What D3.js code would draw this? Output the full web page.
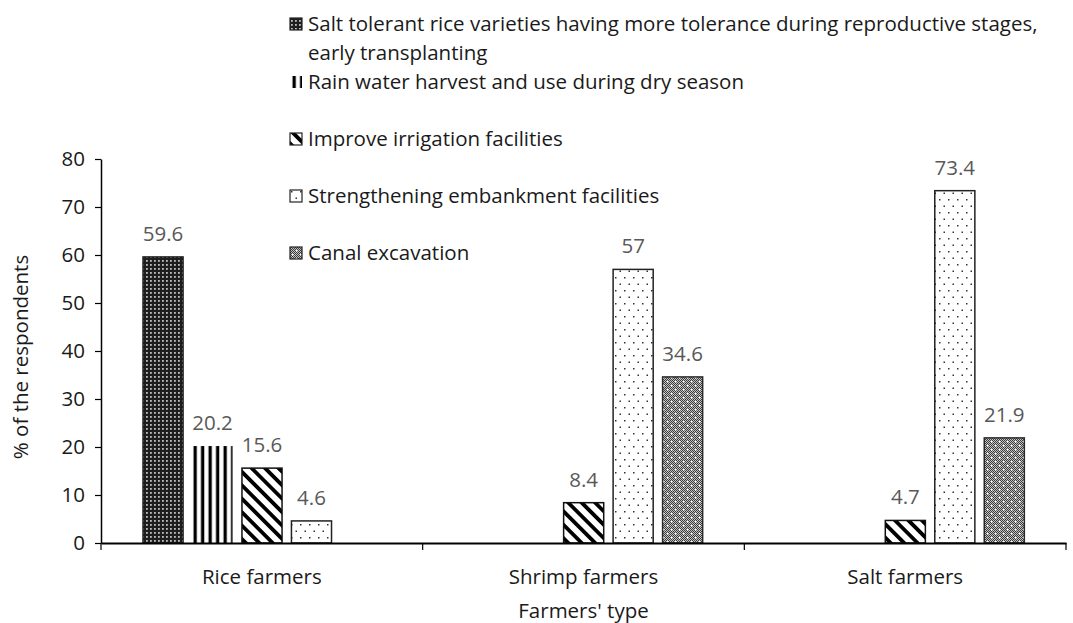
<!DOCTYPE html>
<html lang="en">
<head>
<meta charset="utf-8"/>
<title>Farmers' adaptation measures</title>
<script src="https://d3js.org/d3.v7.min.js"></script>
<style>
  body { margin: 0; background: #fff; }
  text { font-family: "Open Sans", "DejaVu Sans", sans-serif; }
</style>
</head>
<body>
<div id="chart"></div>
<script>
// categories and series (null = no bar)
const categories = ["Rice farmers", "Shrimp farmers", "Salt farmers"];
const seriesNames = [
  ["Salt tolerant rice varieties having more tolerance during reproductive stages,", "early transplanting"],
  ["Rain water harvest and use during dry season"],
  ["Improve irrigation facilities"],
  ["Strengthening embankment facilities"],
  ["Canal excavation"]
];
const saltTolerant = [59.6, null, null];
const rainWater = [20.2, null, null];
const irrigation = [15.6, 8.4, 4.7];
const embankment = [4.6, 57, 73.4];
const canal = [null, 34.6, 21.9];
const yTicks = [0, 10, 20, 30, 40, 50, 60, 70, 80];

const seriesValues = [saltTolerant, rainWater, irrigation, embankment, canal];

const width = 1073, height = 623;
const margin = {top: 159, right: 7, bottom: 80, left: 101};
const fontSize = '20.5px';

const svg = d3.select('#chart').append('svg')
  .attr('width', width)
  .attr('height', height);

// ---- patterns ----
const defs = svg.append('defs');
function pat(id, w, h) {
  return defs.append('pattern').attr('id', id)
    .attr('patternUnits', 'userSpaceOnUse')
    .attr('width', w).attr('height', h);
}
// dense dark dots
let p = pat('p0', 4, 4);
p.append('rect').attr('width', 4).attr('height', 4).attr('fill', '#1e1e1e');
p.append('rect').attr('x', 1).attr('y', 1).attr('width', 1.8).attr('height', 1.8).attr('fill', '#bdbdbd');
// vertical stripes
p = pat('p1', 7.5, 10);
p.append('rect').attr('width', 7.5).attr('height', 10).attr('fill', '#fff');
p.append('rect').attr('x', 2.5).attr('width', 3.3).attr('height', 10).attr('fill', '#000');
// diagonal stripes "\"
p = pat('p2', 9.5, 10).attr('patternTransform', 'rotate(-45)');
p.append('rect').attr('width', 9.5).attr('height', 10).attr('fill', '#fff');
p.append('rect').attr('width', 3.8).attr('height', 10).attr('fill', '#000');
// sparse dots
p = pat('p3', 9, 13);
p.append('rect').attr('width', 9).attr('height', 13).attr('fill', '#fff');
p.append('rect').attr('x', 1).attr('y', 1).attr('width', 1.5).attr('height', 1.5).attr('fill', '#333');
p.append('rect').attr('x', 5.5).attr('y', 7.5).attr('width', 1.5).attr('height', 1.5).attr('fill', '#333');
// gray checker with white dots
p = pat('p4', 8, 8);
p.append('rect').attr('width', 8).attr('height', 8).attr('fill', '#7a7a7a');
for (let i = 0; i < 8; i++) {
  for (let j = 0; j < 8; j++) {
    p.append('rect').attr('x', i).attr('y', j).attr('width', 1).attr('height', 1)
      .attr('fill', (i + j) % 2 === 0 ? '#3a3a3a' : '#c4c4c4');
  }
}
p.append('rect').attr('x', 2).attr('y', 2).attr('width', 1.5).attr('height', 1.5).attr('fill', '#fff');
p.append('rect').attr('x', 6).attr('y', 6).attr('width', 1.5).attr('height', 1.5).attr('fill', '#fff');

const borders = ['#222', 'none', '#111', '#222', '#2a2a2a'];

// ---- scales ----
const innerW = width - margin.left - margin.right;
const innerH = height - margin.top - margin.bottom;
const g = svg.append('g').attr('transform', `translate(${margin.left},${margin.top})`);

const x0 = d3.scaleBand().domain(categories).range([0, innerW]).padding(0);
const x1 = d3.scaleBand().domain(d3.range(seriesNames.length))
  .range([42, 280]).paddingInner(0.19).paddingOuter(0);
const y = d3.scaleLinear().domain([0, 80]).range([innerH, 0]);

// bars
const barData = [];
seriesValues.forEach((vals, s) => {
  vals.forEach((v, c) => { if (v !== null) barData.push({s, c, v}); });
});

g.selectAll('.bar').data(barData).enter().append('rect')
  .attr('class', 'bar')
  .attr('x', d => x0(categories[d.c]) + x1(d.s))
  .attr('y', d => y(d.v))
  .attr('width', x1.bandwidth())
  .attr('height', d => y(0) - y(d.v))
  .attr('fill', d => `url(#p${d.s})`)
  .attr('stroke', d => borders[d.s])
  .attr('stroke-width', 1.5);

// value labels
g.selectAll('.label').data(barData).enter().append('text')
  .attr('class', 'label')
  .attr('x', d => x0(categories[d.c]) + x1(d.s) + x1.bandwidth() / 2)
  .attr('y', d => y(d.v) - 16)
  .attr('text-anchor', 'middle')
  .attr('fill', '#595959')
  .style('font-size', fontSize)
  .text(d => d.v);

// y axis
const yAxis = g.append('g')
  .call(d3.axisLeft(y).tickValues(yTicks).tickSize(6).tickSizeOuter(0));
yAxis.select('.domain').attr('stroke', '#000').attr('stroke-width', 1.5);
yAxis.selectAll('.tick line').attr('stroke', '#000').attr('stroke-width', 1.2);
yAxis.selectAll('.tick text').attr('x', -16).attr('fill', '#1a1a1a').style('font-size', fontSize);

// x axis
const xAxis = g.append('g').attr('transform', `translate(0,${innerH})`)
  .call(d3.axisBottom(x0).tickSize(0).tickSizeOuter(0));
xAxis.select('.domain').attr('stroke', '#000').attr('stroke-width', 2);
xAxis.selectAll('.tick text').attr('dy', 0).attr('y', 41).attr('fill', '#1a1a1a').style('font-size', fontSize);
// category boundary ticks
xAxis.selectAll('.sep').data(d3.range(categories.length + 1)).enter().append('line')
  .attr('class', 'sep')
  .attr('x1', i => i * x0.step()).attr('x2', i => i * x0.step())
  .attr('y1', 0).attr('y2', 7)
  .attr('stroke', '#000').attr('stroke-width', 1.2);

// axis titles
svg.append('text')
  .attr('transform', `translate(28,357) rotate(-90)`)
  .attr('text-anchor', 'middle')
  .attr('fill', '#1a1a1a')
  .style('font-size', fontSize)
  .text('% of the respondents');
svg.append('text')
  .attr('x', margin.left + innerW / 2)
  .attr('y', 618)
  .attr('text-anchor', 'middle')
  .attr('fill', '#1a1a1a')
  .style('font-size', fontSize)
  .text("Farmers' type");

// legend
const legendY = [31, 89, 146, 203, 260];
const legend = svg.append('g').attr('transform', 'translate(290,0)');
seriesNames.forEach((lines, i) => {
  const item = legend.append('g').attr('transform', `translate(0,${legendY[i]})`);
  item.append('rect')
    .attr('x', 0).attr('y', -13).attr('width', 12).attr('height', 12)
    .attr('fill', `url(#p${i})`)
    .attr('stroke', i === 1 ? 'none' : '#222').attr('stroke-width', 1.2);
  const t = item.append('text').attr('x', 18).attr('fill', '#1a1a1a').style('font-size', fontSize);
  lines.forEach((ln, k) => {
    t.append('tspan').attr('x', 18).attr('dy', k === 0 ? 0 : 29).text(ln);
  });
});
</script>
</body>
</html>
